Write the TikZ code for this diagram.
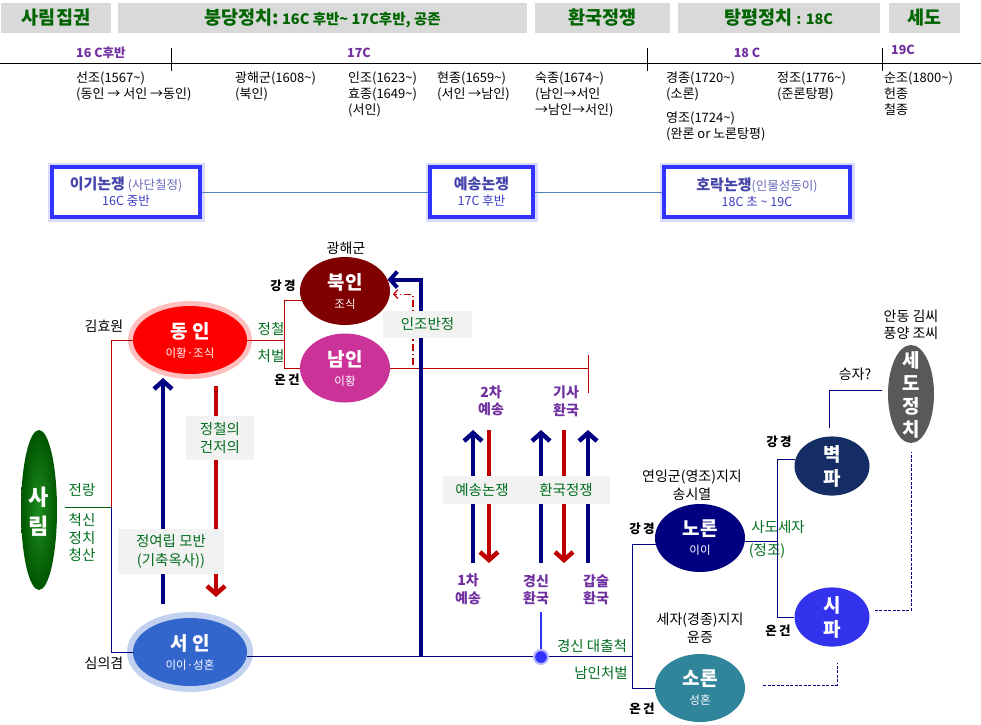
\documentclass[tikz,border=0pt]{standalone}
\usepackage{fontspec}
\setmainfont{Noto Sans CJK KR}
\usetikzlibrary{arrows.meta,shapes.geometric}

\newcommand{\wave}{\textasciitilde}
\newcommand{\subfont}{\mdseries\fontsize{11.5}{13}\selectfont}

\definecolor{hdrgray}{RGB}{217,217,217}
\definecolor{hdrgreen}{RGB}{0,100,0}
\definecolor{lblgreen}{RGB}{0,110,30}
\definecolor{eraviolet}{RGB}{112,48,160}
\definecolor{debateblue}{RGB}{51,51,255}
\definecolor{debatetitle}{RGB}{68,68,170}
\definecolor{debatesub}{RGB}{60,60,200}
\definecolor{linkblue}{RGB}{79,129,189}
\definecolor{navy}{RGB}{0,0,128}
\definecolor{darkred}{RGB}{192,0,0}
\definecolor{paleboxgray}{RGB}{242,242,242}
\definecolor{dongincol}{RGB}{255,0,0}
\definecolor{seoincol}{RGB}{51,102,204}
\definecolor{bugincol}{RGB}{128,0,0}
\definecolor{namincol}{RGB}{204,51,153}
\definecolor{noroncol}{RGB}{0,0,128}
\definecolor{soroncol}{RGB}{49,133,155}
\definecolor{byeokcol}{RGB}{20,45,100}
\definecolor{sipacol}{RGB}{51,51,238}
\definecolor{sedocol}{RGB}{89,89,89}
\definecolor{sarimcol}{RGB}{0,85,0}
\definecolor{sarimlight}{RGB}{30,140,30}
\definecolor{dotblue}{RGB}{51,51,255}

\tikzset{
  hdrbar/.style={fill=hdrgray, minimum height=30pt, inner sep=0pt,
    text=hdrgreen, font=\bfseries\fontsize{18.5}{20}\selectfont},
  era/.style={text=eraviolet, inner sep=0pt,
    font=\bfseries\fontsize{12.5}{13}\selectfont},
  reign/.style={anchor=north west, align=left, inner sep=0pt,
    font=\fontsize{13}{16}\selectfont},
  debate/.style={draw=debateblue, line width=3.5pt, fill=white,
    preaction={draw=debateblue!18, line width=9pt},
    minimum height=50pt, inner sep=0pt, align=center,
    text=debatesub, font=\fontsize{12.5}{16}\selectfont},
  party/.style={ellipse, inner sep=0pt, text=white, align=center,
    font=\bfseries\fontsize{19}{21}\selectfont},
  greenlbl/.style={text=lblgreen, inner sep=0pt, align=center,
    font=\fontsize{14.5}{18}\selectfont},
  blacklbl/.style={inner sep=0pt, align=center,
    font=\fontsize{14}{18}\selectfont},
  sidelbl/.style={inner sep=0pt, font=\bfseries\fontsize{12.5}{14}\selectfont},
  turnlbl/.style={text=eraviolet, inner sep=0pt, align=center,
    font=\bfseries\fontsize{14}{17.5}\selectfont},
  graybox/.style={fill=paleboxgray, inner sep=0pt},
  redline/.style={draw=darkred, line width=1pt},
  navyline/.style={draw=navy, line width=1pt},
  navydash/.style={draw=navy, line width=1pt, dash pattern=on 3pt off 1.5pt},
  uparrow/.style={draw=navy, line width=4.5pt,
    -{Straight Barb[length=8pt,width=18pt]}},
  downarrow/.style={draw=darkred, line width=4.5pt,
    -{Straight Barb[length=8pt,width=18pt]}},
}

\begin{document}
\begin{tikzpicture}[x=1pt,y=-1pt]
  \useasboundingbox (0,0) rectangle (981,724);

  %Header bars
  \node[hdrbar, minimum width=110pt] (sarimhdr) at (56,18) {사림집권};
  \node[hdrbar, minimum width=409pt] (bungdanghdr) at (322.5,18)
    {붕당정치:{\fontsize{14.5}{16}\selectfont\ 16C 후반\wave\ 17C후반, 공존}};
  \node[hdrbar, minimum width=135pt] (hwangukhdr) at (602.5,18) {환국정쟁};
  \node[hdrbar, minimum width=202pt] (tangpyeonghdr) at (779,18)
    {탕평정치{\fontsize{14.5}{16}\selectfont\ : 18C}};
  \node[hdrbar, minimum width=71pt] (sedohdr) at (924.5,18) {세도};

  %Timeline
  \coordinate (tlstart) at (0,63);
  \coordinate (tlend) at (981,63);
  \draw[line width=1pt] (tlstart) -- (tlend);
  \foreach \t/\x in {t16/171,t18/647,t19/882}{
    \coordinate (\t-top) at (\x,48);
    \coordinate (\t-bot) at (\x,71);
    \draw[line width=1pt] (\t-top) -- (\t-bot);
  }
  \node[era, anchor=west] (c16) at (76,53) {16 C후반};
  \node[era] (c17) at (359,53) {17C};
  \node[era] (c18) at (747,53) {18 C};
  \node[era] (c19) at (903,50) {19C};

  \node[reign] (seonjo) at (76,72) {선조(1567\wave)\\(동인 → 서인 →동인)};
  \node[reign] (gwanghae) at (235,72) {광해군(1608\wave)\\(북인)};
  \node[reign] (injo) at (348,72) {인조(1623\wave)\\효종(1649\wave)\\(서인)};
  \node[reign] (hyeonjong) at (437,72) {현종(1659\wave)\\(서인 →남인)};
  \node[reign] (sukjong) at (535,72) {숙종(1674\wave)\\(남인→서인\\→남인→서인)};
  \node[reign] (gyeongjong) at (666,72) {경종(1720\wave)\\(소론)};
  \node[reign] (yeongjo) at (666,112) {영조(1724\wave)\\(완론 or 노론탕평)};
  \node[reign] (jeongjo) at (777,72) {정조(1776\wave)\\(준론탕평)};
  \node[reign] (sunjo) at (884,72) {순조(1800\wave)\\헌종\\철종};

  %Debates
  \node[debate, minimum width=148pt] (igi) at (126,192)
    {{\bfseries\fontsize{15}{16}\selectfont\color{debatetitle}이기논쟁}
     {\color{debatetitle!80}(사단칠정)}\\16C 중반};
  \node[debate, minimum width=103pt] (yesong) at (481.5,192)
    {{\bfseries\fontsize{15}{16}\selectfont\color{debatetitle}예송논쟁}\\17C 후반};
  \node[debate, minimum width=186pt] (horak) at (757,192)
    {{\bfseries\fontsize{15}{16}\selectfont\color{debatetitle}호락논쟁}{\color{debatetitle!80}(인물성동이)}\\18C 초 \wave\ 19C};
  \draw[linkblue, line width=0.8pt] (igi) -- (yesong);
  \draw[linkblue, line width=0.8pt] (yesong) -- (horak);

  %Sarim
  \node[party, shade, inner color=sarimlight, outer color=sarimcol,
    minimum width=36pt, minimum height=160pt] (sarim) at (39,510) {};
  \node[party, font=\bfseries\fontsize{22}{29}\selectfont] (sarimlbl) at (39,512) {사\\림};
  \node[greenlbl] (jeonrang) at (82,490) {전랑};
  \node[greenlbl, font=\fontsize{14.5}{17.5}\selectfont] (cheoksin) at (82,538) {척신\\정치\\청산};
  \coordinate (jeonrangend) at (65,507);
  \coordinate (sarimfork) at (111,507);
  \draw[draw=hdrgreen, line width=1pt] (jeonrangend) -- (sarimfork);

  %Dongin and Seoin
  \node[party, fill=dongincol, minimum width=114pt, minimum height=68pt,
    preaction={draw=red!25, line width=10pt}] (dongin) at (190,340)
    {동 인\\[-2pt]{\subfont 이황·조식}};
  \node[party, fill=seoincol, minimum width=114pt, minimum height=68pt,
    preaction={draw=seoincol!30, line width=12pt}] (seoin) at (190,652)
    {서 인\\[-2pt]{\subfont 이이·성혼}};
  \node[blacklbl] (kimhyowon) at (104,326) {김효원};
  \node[blacklbl] (simuigyeom) at (104,663) {심의겸};
  \draw[redline] (dongin.west) -| (sarimfork);
  \draw[navyline] (seoin.west) -| (sarimfork);

  \coordinate (plotbot) at (163,604);
  \coordinate (plottop) at (163,378);
  \coordinate (geonjeotop) at (216,386);
  \coordinate (geonjeobot) at (216,597);
  \draw[uparrow] (plotbot) -- (plottop);
  \draw[downarrow] (geonjeotop) -- (geonjeobot);
  \node[graybox, greenlbl, minimum width=106pt, minimum height=45pt,
    font=\fontsize{14.5}{19}\selectfont] (plot) at (171,551.5) {정여립 모반\\(기축옥사))};
  \node[graybox, greenlbl, minimum width=68pt, minimum height=44pt] (geonjeo) at (220,438) {정철의\\건저의};

  %Bugin and Namin
  \node[party, fill=bugincol, minimum width=90pt, minimum height=68pt] (bugin) at (345,291)
    {북인\\[-2pt]{\subfont 조식}};
  \node[party, fill=namincol, minimum width=90pt, minimum height=69pt] (namin) at (345,368)
    {남인\\[-2pt]{\subfont 이황}};
  \node[blacklbl] (gwanghaegun) at (346,248) {광해군};
  \node[sidelbl] (bugingang) at (283,286) {강\,경};
  \node[sidelbl] (naminon) at (287,380) {온\,건};
  \node[greenlbl] (jeongcheol) at (271,329) {정철};
  \node[greenlbl] (cheobeol) at (271,356) {처벌};
  \coordinate (splitx) at (284,340);
  \draw[redline] (dongin.east) -- (dongin.east -| splitx);
  \draw[redline] (bugin.193) -| (namin.west -| splitx) -- (namin.west);

  \coordinate (gisatop) at (588,355);
  \coordinate (gisabot) at (588,393);
  \draw[redline] (namin.east) -- (namin.east -| gisatop);
  \draw[redline] (gisatop) -- (gisabot);

  %Injo banjeong
  \coordinate (banjeong) at (421,657);
  \coordinate (banjeongdash) at (413,365);
  \draw[draw=navy, line width=4pt, -{Straight Barb[length=7pt,width=16pt]}] (banjeong) |- (bugin.15);
  \draw[draw=darkred, line width=1.2pt, dash pattern=on 7pt off 3pt on 1.5pt off 3pt,
    -{Straight Barb[length=4pt,width=9pt]}, shorten >=3pt] (banjeongdash) |- (bugin.-4);
  \node[graybox, greenlbl, minimum width=89pt, minimum height=27pt] (injobanjeong) at (427.5,324) {인조반정};

  \coordinate (noronfork) at (632,600);
  \draw[navyline] (seoin.-5) -- (seoin.-5 -| noronfork);

  %Yesong and hwanguk
  \foreach \n/\x in {ya/473,yb/489,yc/541,yd/564,ye/588}{
    \coordinate (\n-top) at (\x,430);
    \coordinate (\n-bot) at (\x,563);
  }
  \draw[uparrow] (ya-bot) -- (ya-top);
  \draw[downarrow] (yb-top) -- (yb-bot);
  \draw[uparrow] (yc-bot) -- (yc-top);
  \draw[downarrow] (yd-top) -- (yd-bot);
  \draw[uparrow] (ye-bot) -- (ye-top);
  \node[graybox, minimum width=167pt, minimum height=28pt] (disputebox) at (526.5,490) {};
  \node[greenlbl] (yesonglbl) at (482,490) {예송논쟁};
  \node[greenlbl] (hwanguklbl) at (566,490) {환국정쟁};

  \node[turnlbl] (second) at (491,401) {2차\\예송};
  \node[turnlbl] (gisa) at (566,401) {기사\\환국};
  \node[turnlbl] (first) at (468,589.5) {1차\\예송};
  \node[turnlbl] (gyeongsin) at (536,589.5) {경신\\환국};
  \node[turnlbl] (gapsul) at (596,589.5) {갑술\\환국};

  \node[circle, fill=dotblue, draw=dotblue!35, line width=2pt, minimum size=14pt,
    inner sep=0pt] (daechul) at (541,657) {};
  \draw[dotblue, line width=2.5pt] ([yshift=-7pt]gyeongsin.south -| daechul) -- (daechul);
  \node[greenlbl] (daechullbl) at (592,646) {경신 대출척};
  \node[greenlbl] (cheobeol2) at (601,673) {남인처벌};

  %Noron and Soron
  \node[party, fill=noroncol, minimum width=90pt, minimum height=68pt] (noron) at (700,538)
    {노론\\[-2pt]{\subfont 이이}};
  \node[party, fill=soroncol, minimum width=90pt, minimum height=68pt] (soron) at (700,688)
    {소론\\[-2pt]{\subfont 성혼}};
  \draw[navyline] (noron.188) -| (soron.west -| noronfork) -- (soron.west);
  \node[blacklbl] (yeoning) at (692,485) {연잉군(영조)지지\\송시열};
  \node[blacklbl] (seja) at (700,628) {세자(경종)지지\\윤증};
  \node[sidelbl] (norongang) at (642,529) {강\,경};
  \node[sidelbl] (soronon) at (642,709) {온\,건};

  %Byeokpa and Sipa
  \node[party, fill=byeokcol, minimum width=75pt, minimum height=59pt,
    font=\bfseries\fontsize{19}{24}\selectfont] (byeokpa) at (832,466) {벽\\파};
  \node[party, fill=sipacol, minimum width=75pt, minimum height=59pt,
    font=\bfseries\fontsize{19}{24}\selectfont] (sipa) at (832,617) {시\\파};
  \coordinate (sadofork) at (777,540);
  \draw[navyline] (noron.-5) -- (noron.-5 -| sadofork);
  \draw[navyline] (byeokpa.170) -| (sipa.west -| sadofork) -- (sipa.west);
  \node[greenlbl] (sado) at (778,527) {사도세자};
  \node[greenlbl] (jeongjolbl) at (767,551) {(정조)};
  \node[sidelbl] (byeokgang) at (779,442) {강\,경};
  \node[sidelbl] (sipaon) at (778,631) {온\,건};

  %Sedo
  \node[party, fill=sedocol, minimum width=46pt, minimum height=98pt] (sedo) at (911,394) {};
  \node[party, font=\bfseries\fontsize{19}{23}\selectfont] (sedolbl) at (911,395) {세\\도\\정\\치};
  \node[blacklbl, font=\fontsize{14}{17}\selectfont] (andong) at (911,324.5) {안동 김씨\\풍양 조씨};
  \node[blacklbl] (seungja) at (855,374) {승자?};
  \draw[navyline] ([xshift=-3pt,yshift=8pt]byeokpa.north) |- ([xshift=-6pt,yshift=4pt]sedo.west);
  \draw[navydash] ([xshift=6pt]sipa.10) -| ([yshift=-9pt]sedo.south);
  \coordinate (sipalow) at (837,663);
  \draw[navydash] ([xshift=18pt,yshift=3pt]soron.east) -| (sipalow);
\end{tikzpicture}
\end{document}
